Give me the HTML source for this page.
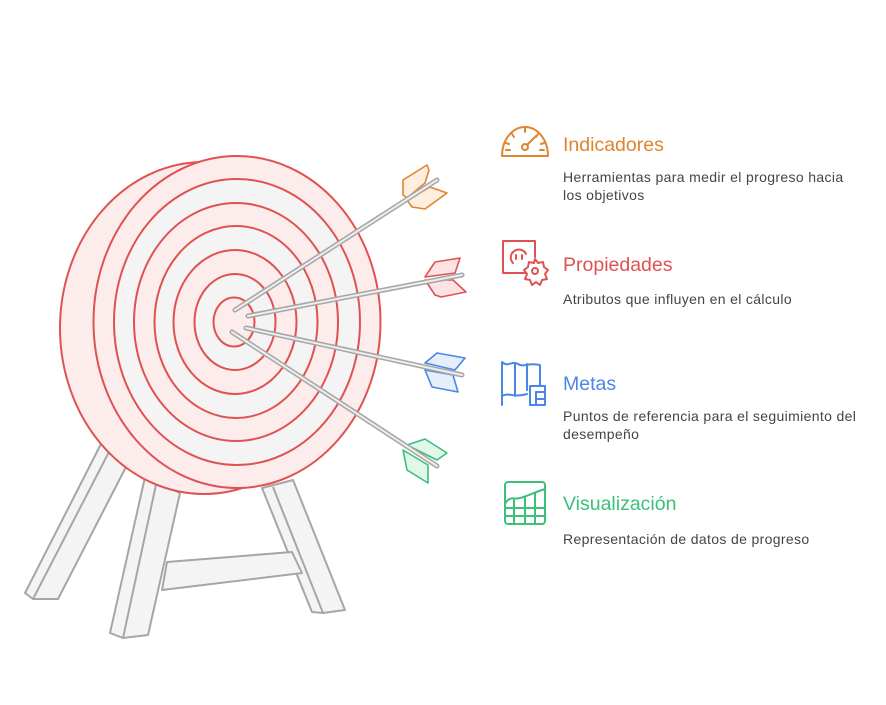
<!DOCTYPE html>
<html><head><meta charset="utf-8"><style>
body{margin:0;background:#fff;width:886px;height:705px;overflow:hidden;font-family:"Liberation Sans",sans-serif}
.t{position:absolute;left:563px;font-size:19.5px}
.d{position:absolute;left:563px;font-size:14px;letter-spacing:0.35px;color:#444;line-height:18px;width:295px}
</style></head><body>
<svg width="886" height="705" style="position:absolute;left:0;top:0">
<g fill="#f4f4f4" stroke="#a6a6a6" stroke-width="2" stroke-linejoin="round">
<polygon points="103,440 25,593 33,599 58,599 127,465"/><line x1="110" y1="450" x2="33" y2="599"/>
<polygon points="262,488 312,612 323,613 345,610 293,480"/><line x1="273" y1="487" x2="323" y2="613"/>
<polygon points="167,562 292,552 302,573 162,590"/>
<polygon points="145,477 110,633 123,638 148,635 180,493"/><line x1="157" y1="480" x2="123" y2="638"/>
</g>
<g stroke="#e05252" stroke-width="2">
<ellipse cx="204" cy="328" rx="144" ry="166" fill="#fdecec"/>
<ellipse cx="237" cy="322" rx="143.5" ry="166" fill="#fdecec"/>
<ellipse cx="237" cy="322" rx="123" ry="143" fill="#f4f4f4"/>
<ellipse cx="236" cy="322" rx="102" ry="119" fill="#fdecec"/>
<ellipse cx="236" cy="322" rx="81.5" ry="96" fill="#f4f4f4"/>
<ellipse cx="235" cy="322" rx="61.5" ry="72" fill="#fdecec"/>
<ellipse cx="235" cy="322" rx="40.5" ry="48" fill="#f4f4f4"/>
<ellipse cx="234" cy="322" rx="20.5" ry="24.5" fill="#fdecec"/>
</g>
<g stroke-linejoin="round" stroke-width="1.6">
<g fill="#fdeedd" stroke="#e0852e"><polygon points="403,180 427,165 429,170 425,183 407,198 403,195"/><polygon points="407,200 430,187 447,193 425,209 412,207"/></g>
<g fill="#fde3e3" stroke="#e05252"><polygon points="425,277 435,262 460,258 455,273"/><polygon points="425,280 453,280 466,292 441,297 435,295"/></g>
<g fill="#e6eefc" stroke="#4a86e8"><polygon points="425,363 437,353 465,358 455,370"/><polygon points="425,370 453,375 458,392 432,387"/></g>
<g fill="#e1f7ea" stroke="#3cbf7a"><polygon points="407,445 425,439 447,453 437,460"/><polygon points="403,450 428,465 428,483 407,470"/></g>
</g>
<g stroke-linecap="round">
<g stroke="#a6a6a6" stroke-width="5"><line x1="235" y1="310" x2="437" y2="180"/><line x1="248" y1="316" x2="462" y2="275"/><line x1="246" y1="328" x2="462" y2="375"/><line x1="232" y1="332" x2="437" y2="466"/></g>
<g stroke="#eeeeee" stroke-width="2"><line x1="235" y1="310" x2="437" y2="180"/><line x1="248" y1="316" x2="462" y2="275"/><line x1="246" y1="328" x2="462" y2="375"/><line x1="232" y1="332" x2="437" y2="466"/></g>
</g>
<g fill="none" stroke-width="2" stroke-linecap="round" stroke-linejoin="round">
<g stroke="#e0852e"><path d="M502,156 A23,29 0 0 1 548,156 Z"/><circle cx="525" cy="147" r="3"/><line x1="527" y1="145" x2="536" y2="136"/><line x1="525" y1="128" x2="525" y2="132"/><line x1="512" y1="134" x2="514" y2="137"/><line x1="538" y1="134" x2="536" y2="137"/><line x1="506" y1="143" x2="509" y2="144"/><line x1="544" y1="143" x2="541" y2="144"/><line x1="506" y1="150" x2="510" y2="150"/><line x1="540" y1="150" x2="544" y2="150"/></g>
<g stroke="#e05252"><path d="M526,273 H503 V241 H535 V257"/><path d="M513,263 A8,8 0 1 1 526,254"/><line x1="516" y1="255" x2="516" y2="259"/><line x1="522" y1="255" x2="522" y2="259"/><circle cx="535" cy="271" r="3"/><path d="M535,259 l3,4 5,-1 1,5 4,3 -3,4 2,5 -5,1 -2,5 -4,-3 -4,3 -2,-5 -5,-1 2,-5 -3,-4 4,-3 1,-5 5,1 z"/></g>
<g stroke="#4a86e8"><path d="M502,405 V362 C508,368 512,360 518,364 C524,368 528,362 540,365 V385"/><line x1="515" y1="364" x2="515" y2="396"/><line x1="527" y1="364" x2="527" y2="390"/><path d="M502,396 C508,392 514,398 527,394"/><path d="M530,405 V386 H545 V405 Z"/><line x1="536" y1="392" x2="545" y2="392"/><line x1="536" y1="399" x2="545" y2="399"/><line x1="536" y1="392" x2="536" y2="405"/></g>
<g stroke="#3cbf7a"><rect x="505" y="482" width="40" height="42" rx="3"/><path d="M505,504 C510,495 514,500 520,498 C528,496 535,492 545,489"/><line x1="505" y1="508" x2="545" y2="508"/><line x1="505" y1="516" x2="545" y2="516"/><line x1="514" y1="500" x2="514" y2="524"/><line x1="525" y1="497" x2="525" y2="524"/><line x1="535" y1="493" x2="535" y2="524"/></g>
</g>
</svg>
<div class="t" style="top:134px;color:#e0852e">Indicadores</div>
<div class="d" style="top:168px">Herramientas para medir el progreso hacia los objetivos</div>
<div class="t" style="top:254px;color:#e05252">Propiedades</div>
<div class="d" style="top:290px">Atributos que influyen en el cálculo</div>
<div class="t" style="top:373px;color:#4a86e8">Metas</div>
<div class="d" style="top:407px">Puntos de referencia para el seguimiento del desempeño</div>
<div class="t" style="top:493px;color:#3cbf7a">Visualización</div>
<div class="d" style="top:530px">Representación de datos de progreso</div>
</body></html>
